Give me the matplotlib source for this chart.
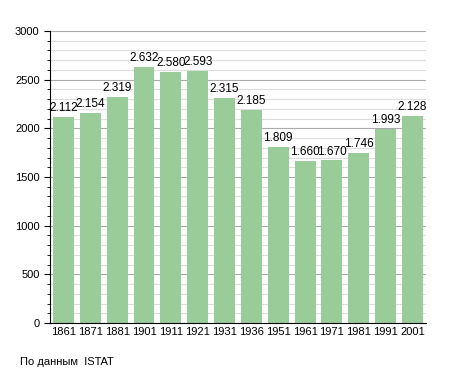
import matplotlib
matplotlib.use('Agg')
import matplotlib.pyplot as plt
import numpy as np

years = ['1861', '1871', '1881', '1901', '1911', '1921', '1931',
         '1936', '1951', '1961', '1971', '1981', '1991', '2001']
population = [2112, 2154, 2319, 2632, 2580, 2593, 2315,
              2185, 1809, 1660, 1670, 1746, 1993, 2128]
labels = ['2.112', '2.154', '2.319', '2.632', '2.580', '2.593', '2.315',
          '2.185', '1.809', '1.660', '1.670', '1.746', '1.993', '2.128']

plt.rcParams['font.family'] = ['Liberation Sans', 'DejaVu Sans']

fig = plt.figure(figsize=(4.55, 3.73), dpi=100)
ax = fig.add_axes([0.110, 0.134, 0.826, 0.783])

x = np.arange(len(years))
ax.bar(x, population, width=0.78, color='#99cc99', zorder=2)

# value labels above bars
for xi, v, lab in zip(x, population, labels):
    ax.text(xi, v + 30, lab, ha='center', va='bottom', fontsize=8.5, zorder=3)

ax.set_xlim(-0.5, len(years) - 0.5)
ax.set_ylim(0, 3000)
ax.set_yticks(np.arange(0, 3001, 500))
ax.set_yticks(np.arange(0, 3001, 100), minor=True)
ax.yaxis.grid(True, which='major', color='#aaaaaa', linewidth=0.8, zorder=0)
ax.yaxis.grid(True, which='minor', color='#dddddd', linewidth=0.8, zorder=0)
ax.set_axisbelow(True)

ax.set_xticks(x)
ax.set_xticklabels(years)
ax.tick_params(axis='x', length=0, labelsize=8, pad=3)
ax.tick_params(axis='y', which='major', length=4, labelsize=8)
ax.tick_params(axis='y', which='minor', length=2)

for s in ['top', 'right']:
    ax.spines[s].set_visible(False)

fig.text(20 / 455, 1 - 362 / 373, 'По данным  ISTAT', fontsize=8, va='center')

fig.savefig('out.png', dpi=100)
